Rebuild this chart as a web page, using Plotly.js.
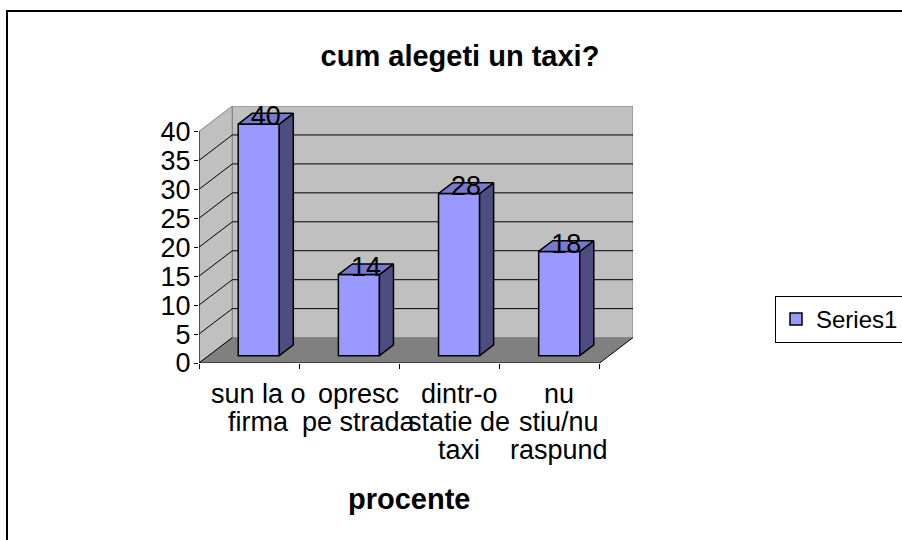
<!DOCTYPE html>
<html>
<head>
<meta charset="utf-8">
<script src="https://cdn.plot.ly/plotly-3.0.1.min.js"></script>
<style>
  html, body { margin: 0; padding: 0; background: #ffffff; }
  #chart { width: 902px; height: 540px; }
</style>
</head>
<body>
<div id="chart"></div>
<script>
// ---- data ----
const categories = ["sun la o<br>firma", "opresc<br>pe strada", "dintr-o<br>statie de<br>taxi", "nu<br>stiu/nu<br>raspund"];
const values = [40, 14, 28, 18];
const yTickVals = [0, 5, 10, 15, 20, 25, 30, 35, 40];
const yTickText = ["0", "5", "10", "15", "20", "25", "30", "35", "40"];
const seriesName = "Series1";
const chartTitle = "cum alegeti un taxi?";
const xTitle = "procente";

// ---- 3D projection constants (style / geometry) ----
const DX = 0.333;   // depth shift in category units
const DY = 4.39;    // depth shift in value units
const D0 = 0.29, D1 = 0.71;  // bar front / back depth fraction
const BW = 0.41;    // bar width
const YMAX = 40;
const n = categories.length;
const X0 = -0.5, X1 = n - 0.5;

const FONT = "Liberation Sans, Arial, sans-serif";
const FS = 27;       // regular text size
const FB = 29;       // bold title size
const FRONT = "#9999ff", SIDE = "#4d4d82", TOP = "#7a7acc";

// ---- shapes: walls, floor, gridlines ----
const shapes = [];
function path(pts) { return "M" + pts.map(p => p[0] + "," + p[1]).join(" L") + " Z"; }
function openPath(pts) { return "M" + pts.map(p => p[0] + "," + p[1]).join(" L"); }
// left wall
shapes.push({type: "path", xref: "x", yref: "y", layer: "below",
  path: path([[X0, 0], [X0, YMAX], [X0 + DX, YMAX + DY], [X0 + DX, DY]]),
  fillcolor: "#c0c0c0", line: {color: "#808080", width: 1}});
// back wall
shapes.push({type: "path", xref: "x", yref: "y", layer: "below",
  path: path([[X0 + DX, DY], [X1 + DX, DY], [X1 + DX, YMAX + DY], [X0 + DX, YMAX + DY]]),
  fillcolor: "#c0c0c0", line: {color: "#808080", width: 1}});
// floor
shapes.push({type: "path", xref: "x", yref: "y", layer: "below",
  path: path([[X0, 0], [X1, 0], [X1 + DX, DY], [X0 + DX, DY]]),
  fillcolor: "#808080", line: {width: 0}});
// gridlines (left wall diagonal + back wall horizontal)
yTickVals.forEach(v => {
  if (v === 0 || v === YMAX) return;
  shapes.push({type: "path", xref: "x", yref: "y", layer: "below",
    path: openPath([[X0, v], [X0 + DX, v + DY], [X1 + DX, v + DY]]),
    line: {color: "#000000", width: 1}});
});
// floor edges (front, left, right) in black
shapes.push({type: "path", xref: "x", yref: "y", layer: "below",
  path: openPath([[X0 + DX, DY], [X0, 0], [X1, 0], [X1 + DX, DY]]),
  line: {color: "#000000", width: 1}});
// front value axis line
shapes.push({type: "line", xref: "x", yref: "y", layer: "below",
  x0: X0, x1: X0, y0: 0, y1: YMAX, line: {color: "#000000", width: 1}});

// ---- bars ----
const idx = categories.map((c, i) => i);
const frontX = idx.map(i => i + D0 * DX);
const base = D0 * DY;
const bdx = (D1 - D0) * DX, bdy = (D1 - D0) * DY;

const frontTrace = {
  type: "bar", name: seriesName, x: frontX, y: values, base: idx.map(() => base),
  width: idx.map(() => BW), marker: {color: FRONT, line: {color: "#000000", width: 1.5}},
  hoverinfo: "skip", showlegend: true
};
const sx = [], sy = [], tx = [], ty = [];
values.forEach((v, i) => {
  const xl = frontX[i] - BW / 2, xr = frontX[i] + BW / 2;
  const yb = base, yt = base + v;
  sx.push(xr, xr, xr + bdx, xr + bdx, xr, null);
  sy.push(yb, yt, yt + bdy, yb + bdy, yb, null);
  tx.push(xl, xr, xr + bdx, xl + bdx, xl, null);
  ty.push(yt, yt, yt + bdy, yt + bdy, yt, null);
});
const sideTrace = {type: "scatter", mode: "lines", x: sx, y: sy, fill: "toself",
  fillcolor: SIDE, line: {color: "#000000", width: 1.5}, hoverinfo: "skip", showlegend: false};
const topTrace = {type: "scatter", mode: "lines", x: tx, y: ty, fill: "toself",
  fillcolor: TOP, line: {color: "#000000", width: 1.5}, hoverinfo: "skip", showlegend: false};
const labelTrace = {type: "scatter", mode: "text",
  x: frontX.map(x => x + bdx / 2), y: values.map(v => base + v + bdy / 2),
  text: values.map(String), textposition: "middle center",
  textfont: {family: FONT, size: FS, color: "#000000"}, hoverinfo: "skip", showlegend: false};

// ---- layout ----
const L = 199, T = 106, W = 434, H = 257;
const R = 902 - L - W, B = 540 - T - H;
const xRange = [X0, X1 + DX];
const yRange = [0, YMAX + DY];
function px2paperX(px) { return (px - L) / W; }
function px2paperY(py) { return (T + H - py) / H; }
// outer chart border
shapes.push({type: "rect", xref: "paper", yref: "paper", layer: "above",
  x0: px2paperX(7), x1: px2paperX(906), y0: px2paperY(546), y1: px2paperY(11),
  line: {color: "#000000", width: 2}, fillcolor: "rgba(0,0,0,0)"});

// category labels, one annotation per line
const annotations = [];
const lineY = [393.5, 421.8, 450.1];
categories.forEach((c, i) => {
  c.split("<br>").forEach((line, k) => {
    annotations.push({xref: "x", yref: "paper", x: frontX[i], y: px2paperY(lineY[k]),
      xanchor: "center", yanchor: "middle", showarrow: false, text: line,
      font: {family: FONT, size: FS, color: "#000000"}});
  });
});
annotations.push({xref: "paper", yref: "paper", x: px2paperX(409), y: px2paperY(499),
  xanchor: "center", yanchor: "middle", showarrow: false, text: "<b>" + xTitle + "</b>",
  font: {family: FONT, size: FB, color: "#000000"}});

const layout = {
  width: 902, height: 540,
  margin: {l: L, r: R, t: T, b: B, pad: 0, autoexpand: false},
  paper_bgcolor: "#ffffff", plot_bgcolor: "rgba(0,0,0,0)",
  font: {family: FONT, color: "#000000", size: FS},
  title: {text: "<b>" + chartTitle + "</b>", x: 460 / 902, xanchor: "center",
    y: 1 - 56 / 540, yanchor: "middle", font: {family: FONT, size: FB, color: "#000000"}},
  xaxis: {range: xRange, showgrid: false, zeroline: false, showline: false,
    tickvals: [-0.5, 0.5, 1.5, 2.5, 3.5], ticktext: ["", "", "", "", ""],
    ticks: "outside", ticklen: 5, tickcolor: "#000000", tickwidth: 1, fixedrange: true},
  yaxis: {range: yRange, showgrid: false, zeroline: false, showline: false,
    tickvals: yTickVals, ticktext: yTickText, ticks: "outside", ticklen: 4,
    ticklabelstandoff: -2,
    tickcolor: "#000000", tickwidth: 1, tickfont: {family: FONT, size: FS, color: "#000000"},
    fixedrange: true},
  legend: {x: px2paperX(775), xanchor: "left", y: px2paperY(296), yanchor: "top",
    bgcolor: "#ffffff", bordercolor: "#000000", borderwidth: 1,
    font: {family: FONT, size: 24, color: "#000000"}},
  annotations: annotations,
  shapes: shapes,
  showlegend: true, bargap: 0
};

Plotly.newPlot("chart", [frontTrace, sideTrace, topTrace, labelTrace], layout,
  {displayModeBar: false, staticPlot: true});
</script>
</body>
</html>
